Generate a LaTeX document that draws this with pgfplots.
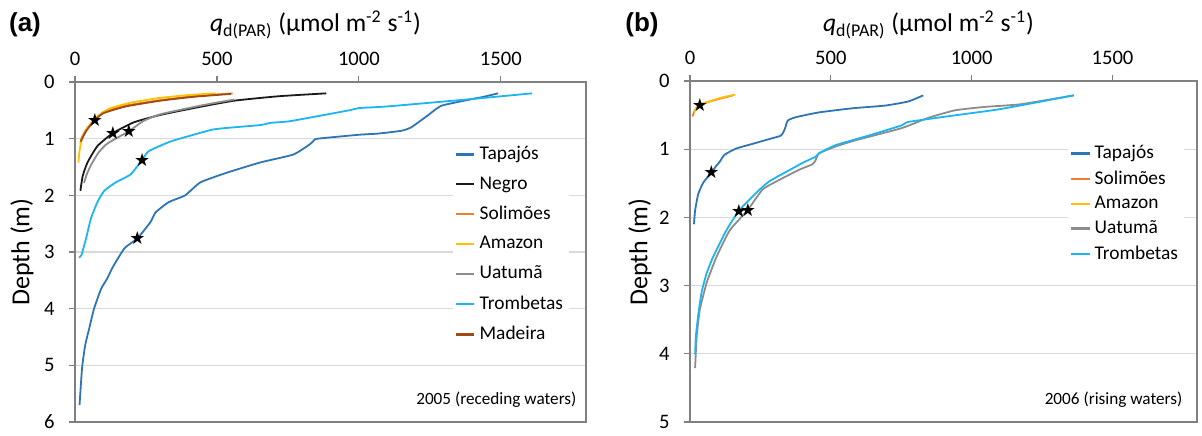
\documentclass[border=0pt]{standalone}
\usepackage{pgfplots}
\pgfplotsset{compat=1.18}
\usepackage{fontspec}
\setmainfont{Carlito}
\newfontfamily\arialfont{Liberation Sans}
\newfontfamily\dejavu{DejaVu Sans}

\definecolor{cTap}{HTML}{2E75B6}
\definecolor{cNeg}{HTML}{1A1A1A}
\definecolor{cSol}{HTML}{ED7D31}
\definecolor{cAma}{HTML}{FFC000}
\definecolor{cUat}{HTML}{8C8C8C}
\definecolor{cTro}{HTML}{1CB5F0}
\definecolor{cMad}{HTML}{A04A14}

\pgfplotsset{
 curve/.style={line width=0.9pt, mark=none, smooth, tension=0.3},
 stars/.style={only marks, mark=text, text mark={\dejavu\fontsize{9}{9}\selectfont ★}, black, forget plot},
 myaxis/.style={
  scale only axis,
  y dir=reverse,
  xmin=0, xmax=1800,
  xtick={0,500,1000,1500},
  xtick pos=upper, xticklabel pos=upper,
  ytick pos=left,
  tick align=outside,
  major tick length=3.2pt,
  ymajorgrids,
  major grid style={draw=black!15, line width=0.6pt},
  axis line style={draw=black!50, line width=0.6pt},
  tick style={draw=black!50, line width=0.6pt},
  ticklabel style={font=\fontsize{10.3}{11}\selectfont},
  xticklabel style={yshift=1.5pt},
  yticklabel style={xshift=-3.5pt},
  /pgf/number format/assume math mode=true,
  /pgf/number format/1000 sep={},
  legend cell align=left,
  legend image code/.code={\draw[#1, line width=1.2pt] (0cm,0cm) -- (0.32cm,0cm);},
  legend style={draw=none, fill=white, inner sep=1pt, font=\fontsize{9.7}{11}\selectfont},
 }
}

\begin{document}
\begin{tikzpicture}
\useasboundingbox (0,0) rectangle (601pt,217.5pt);

% ---------------- panel (a)
\begin{axis}[myaxis, at={(37.5pt,6.5pt)}, anchor=south west,
  width=255.5pt, height=170pt, ymin=0, ymax=6, ytick={0,1,2,3,4,5,6},
  legend style={at={(0.739,0.83)}, anchor=north west, row sep=3pt}]
\addplot[curve, cTap] coordinates {(1490,0.20) (1440,0.26) (1380,0.32) (1290,0.42) (1240,0.60) (1184,0.80) (1150,0.86) (1068,0.91) (1002,0.93) (855,1.00) (840,1.04) (827,1.10) (769,1.28) (652,1.42) (535,1.60) (442,1.77) (388,2.00) (330,2.12) (284,2.30) (266,2.47) (220,2.76) (175,2.93) (135,3.25) (112,3.48) (92,3.65) (67,4.00) (50,4.35) (36,4.64) (25,5.04) (16,5.70)};
\addlegendentry{Tapajós}
\addplot[curve, cNeg] coordinates {(885,0.20) (720,0.25) (560,0.33) (418,0.46) (301,0.58) (208,0.71) (134,0.90) (79,1.13) (44,1.42) (27,1.66) (19,1.92)};
\addlegendentry{Negro}
\addplot[curve, cSol] coordinates {(555,0.20) (418,0.25) (301,0.32) (185,0.41) (103,0.52) (68,0.67) (39,0.84) (23,0.99) (19,1.10)};
\addlegendentry{Solimões}
\addplot[curve, cAma] coordinates {(495,0.20) (400,0.23) (300,0.28) (200,0.36) (120,0.47) (75,0.63) (45,0.80) (28,0.95) (20,1.10) (15,1.25) (12,1.42)};
\addlegendentry{Amazon}
\addplot[curve, cUat] coordinates {(560,0.31) (480,0.38) (400,0.46) (300,0.57) (240,0.69) (190,0.87) (150,0.98) (110,1.10) (82,1.25) (58,1.45) (42,1.62) (32,1.78)};
\addlegendentry{Uatumã}
\addplot[curve, cTro] coordinates {(1610,0.20) (1376,0.31) (1102,0.43) (1000,0.46) (965,0.50) (759,0.69) (690,0.72) (652,0.76) (535,0.81) (484,0.84) (418,0.93) (336,1.05) (260,1.22) (237,1.37) (196,1.63) (144,1.77) (103,1.92) (79,2.12) (56,2.41) (39,2.76) (23,3.05) (14,3.10)};
\addlegendentry{Trombetas}
\addplot[curve, cMad] coordinates {(550,0.21) (420,0.26) (300,0.33) (180,0.43) (100,0.55) (68,0.68) (40,0.86) (25,1.00) (20,1.05)};
\addlegendentry{Madeira}
\addplot[stars] coordinates {(70,0.67) (134,0.90) (190,0.87) (237,1.37) (220,2.76)};
\node[anchor=east, font=\fontsize{8.6}{10}\selectfont] at (rel axis cs:0.995,0.065) {2005 (receding waters)};
\end{axis}

% ---------------- panel (b)
\begin{axis}[myaxis, at={(345pt,6.5pt)}, anchor=south west,
  width=253.5pt, height=170.5pt, ymin=0, ymax=5, ytick={0,1,2,3,4,5},
  legend style={at={(0.745,0.83)}, anchor=north west, row sep=0.5pt}]
\addplot[curve, cTap] coordinates {(828,0.21) (775,0.30) (693,0.36) (576,0.40) (458,0.46) (376,0.53) (347,0.58) (337,0.70) (323,0.80) (282,0.85) (223,0.92) (164,0.99) (123,1.08) (106,1.18) (94,1.24) (76,1.34) (47,1.49) (29,1.66) (18,1.90) (14,2.10)};
\addlegendentry{Tapajós}
\addplot[curve, cSol] coordinates {(153,0.21) (106,0.26) (70,0.30) (35,0.35) (18,0.42) (9,0.52)};
\addlegendentry{Solimões}
\addplot[curve, cAma] coordinates {(160,0.20) (115,0.24) (75,0.29) (40,0.34) (22,0.40) (14,0.46)};
\addlegendentry{Amazon}
\addplot[curve, cUat] coordinates {(1363,0.21) (1175,0.34) (1045,0.38) (940,0.43) (846,0.54) (752,0.69) (587,0.87) (517,0.96) (458,1.06) (446,1.16) (435,1.22) (388,1.30) (317,1.45) (258,1.59) (205,1.89) (141,2.19) (94,2.58) (59,2.96) (35,3.35) (24,3.73) (18,4.21)};
\addlegendentry{Uatumã}
\addplot[curve, cTro] coordinates {(1363,0.21) (1104,0.41) (928,0.51) (775,0.60) (752,0.65) (634,0.80) (517,0.94) (458,1.06) (446,1.11) (400,1.20) (282,1.47) (235,1.64) (174,1.90) (129,2.19) (82,2.58) (59,2.82) (41,3.10) (29,3.44) (21,3.73) (18,4.01)};
\addlegendentry{Trombetas}
\addplot[stars] coordinates {(35,0.35) (76,1.34) (174,1.90) (206,1.89)};
\node[anchor=east, font=\fontsize{8.6}{10}\selectfont] at (rel axis cs:0.985,0.066) {2006 (rising waters)};
\end{axis}

% ---------------- texts
\node[font=\arialfont\bfseries\fontsize{13}{15}\selectfont] at (12.5pt,205pt) {(a)};
\node[font=\arialfont\bfseries\fontsize{13}{15}\selectfont] at (321pt,205pt) {(b)};
\node[font=\fontsize{12.8}{15}\selectfont] at (157.75pt,205pt) {\textit{q}\textsubscript{d(PAR)} (µmol m\textsuperscript{-2} s\textsuperscript{-1})};
\node[font=\fontsize{12.8}{15}\selectfont] at (464.25pt,205pt) {\textit{q}\textsubscript{d(PAR)} (µmol m\textsuperscript{-2} s\textsuperscript{-1})};
\node[rotate=90, font=\fontsize{13}{15}\selectfont] at (11pt,91.5pt) {Depth (m)};
\node[rotate=90, font=\fontsize{13}{15}\selectfont] at (320pt,91.5pt) {Depth (m)};
\end{tikzpicture}
\end{document}
